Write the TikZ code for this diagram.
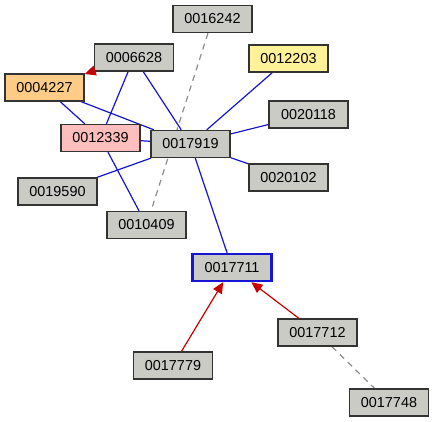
\documentclass[tikz,border=0pt]{standalone}
\usepackage{fontspec}
\setmainfont{Liberation Sans}
\usepackage{tikz}
\usetikzlibrary{arrows.meta,backgrounds}
\usepackage{xcolor}
\definecolor{boxgray}{RGB}{202,203,197}
\definecolor{boxedge}{RGB}{51,51,51}
\definecolor{boxorange}{RGB}{255,204,136}
\definecolor{boxyellow}{RGB}{255,242,153}
\definecolor{boxpink}{RGB}{255,190,190}
\definecolor{linkblue}{RGB}{20,20,210}
\definecolor{citered}{RGB}{200,0,0}

\begin{document}
\begin{tikzpicture}[x=1pt, y=-1pt,
    paper/.style={draw=boxedge, line width=1.4pt, fill=boxgray, minimum width=79pt,
        minimum height=27pt, inner sep=0pt, font=\fontsize{14.4}{16}\selectfont},
    link/.style={linkblue, line width=1.2pt},
    cite/.style={citered, line width=1.2pt, -{Triangle[length=11pt, width=10pt]}},
    weak/.style={gray!90, line width=1.2pt, dash pattern=on 6pt off 5pt}]
    \useasboundingbox (0,0) rectangle (434,422);

    % papers
    \node[paper] (p16242) at (212.5,19) {0016242};
    \node[paper] (p06628) at (134,57.5) {0006628};
    \node[paper, fill=boxorange] (p04227) at (44.5,87.5) {0004227};
    \node[paper, fill=boxyellow] (p12203) at (288.5,58.5) {0012203};
    \node[paper] (p20118) at (308.5,114.5) {0020118};
    \node[paper, fill=boxpink] (p12339) at (100.5,138) {0012339};
    \node[paper] (p17919) at (190.5,144) {0017919};
    \node[paper] (p20102) at (288.5,177.5) {0020102};
    \node[paper] (p19590) at (57.5,191.5) {0019590};
    \node[paper] (p10409) at (146.5,225) {0010409};
    \node[paper, draw=linkblue, line width=2.4pt] (p17711) at (232,267.5) {0017711};
    \node[paper] (p17712) at (317.5,332.5) {0017712};
    \node[paper] (p17779) at (173,365.5) {0017779};
    \node[paper] (p17748) at (389,402.5) {0017748};

    % links
    \begin{scope}[on background layer]
        \draw[weak] (p16242) -- (p10409);
        \draw[weak] (p17712) -- (p17748);
        \draw[link] (p06628) -- (p12339);
        \draw[link] (p06628) -- (p17919);
        \draw[link] (p04227) -- (p12339);
        \draw[link] (p04227) -- (p17919);
        \draw[link] (p12339) -- (p17919);
        \draw[link] (p12339) -- (p10409);
        \draw[link] (p12203) -- (p17919);
        \draw[link] (p20118) -- (p17919);
        \draw[link] (p20102) -- (p17919);
        \draw[link] (p19590) -- (p17919);
        \draw[link] (p17919) -- (p17711);
    \end{scope}

    % citations
    \draw[cite] (p06628) -- (p04227);
    \draw[cite] (p17779) -- (p17711);
    \draw[cite] (p17712) -- (p17711);
\end{tikzpicture}
\end{document}
